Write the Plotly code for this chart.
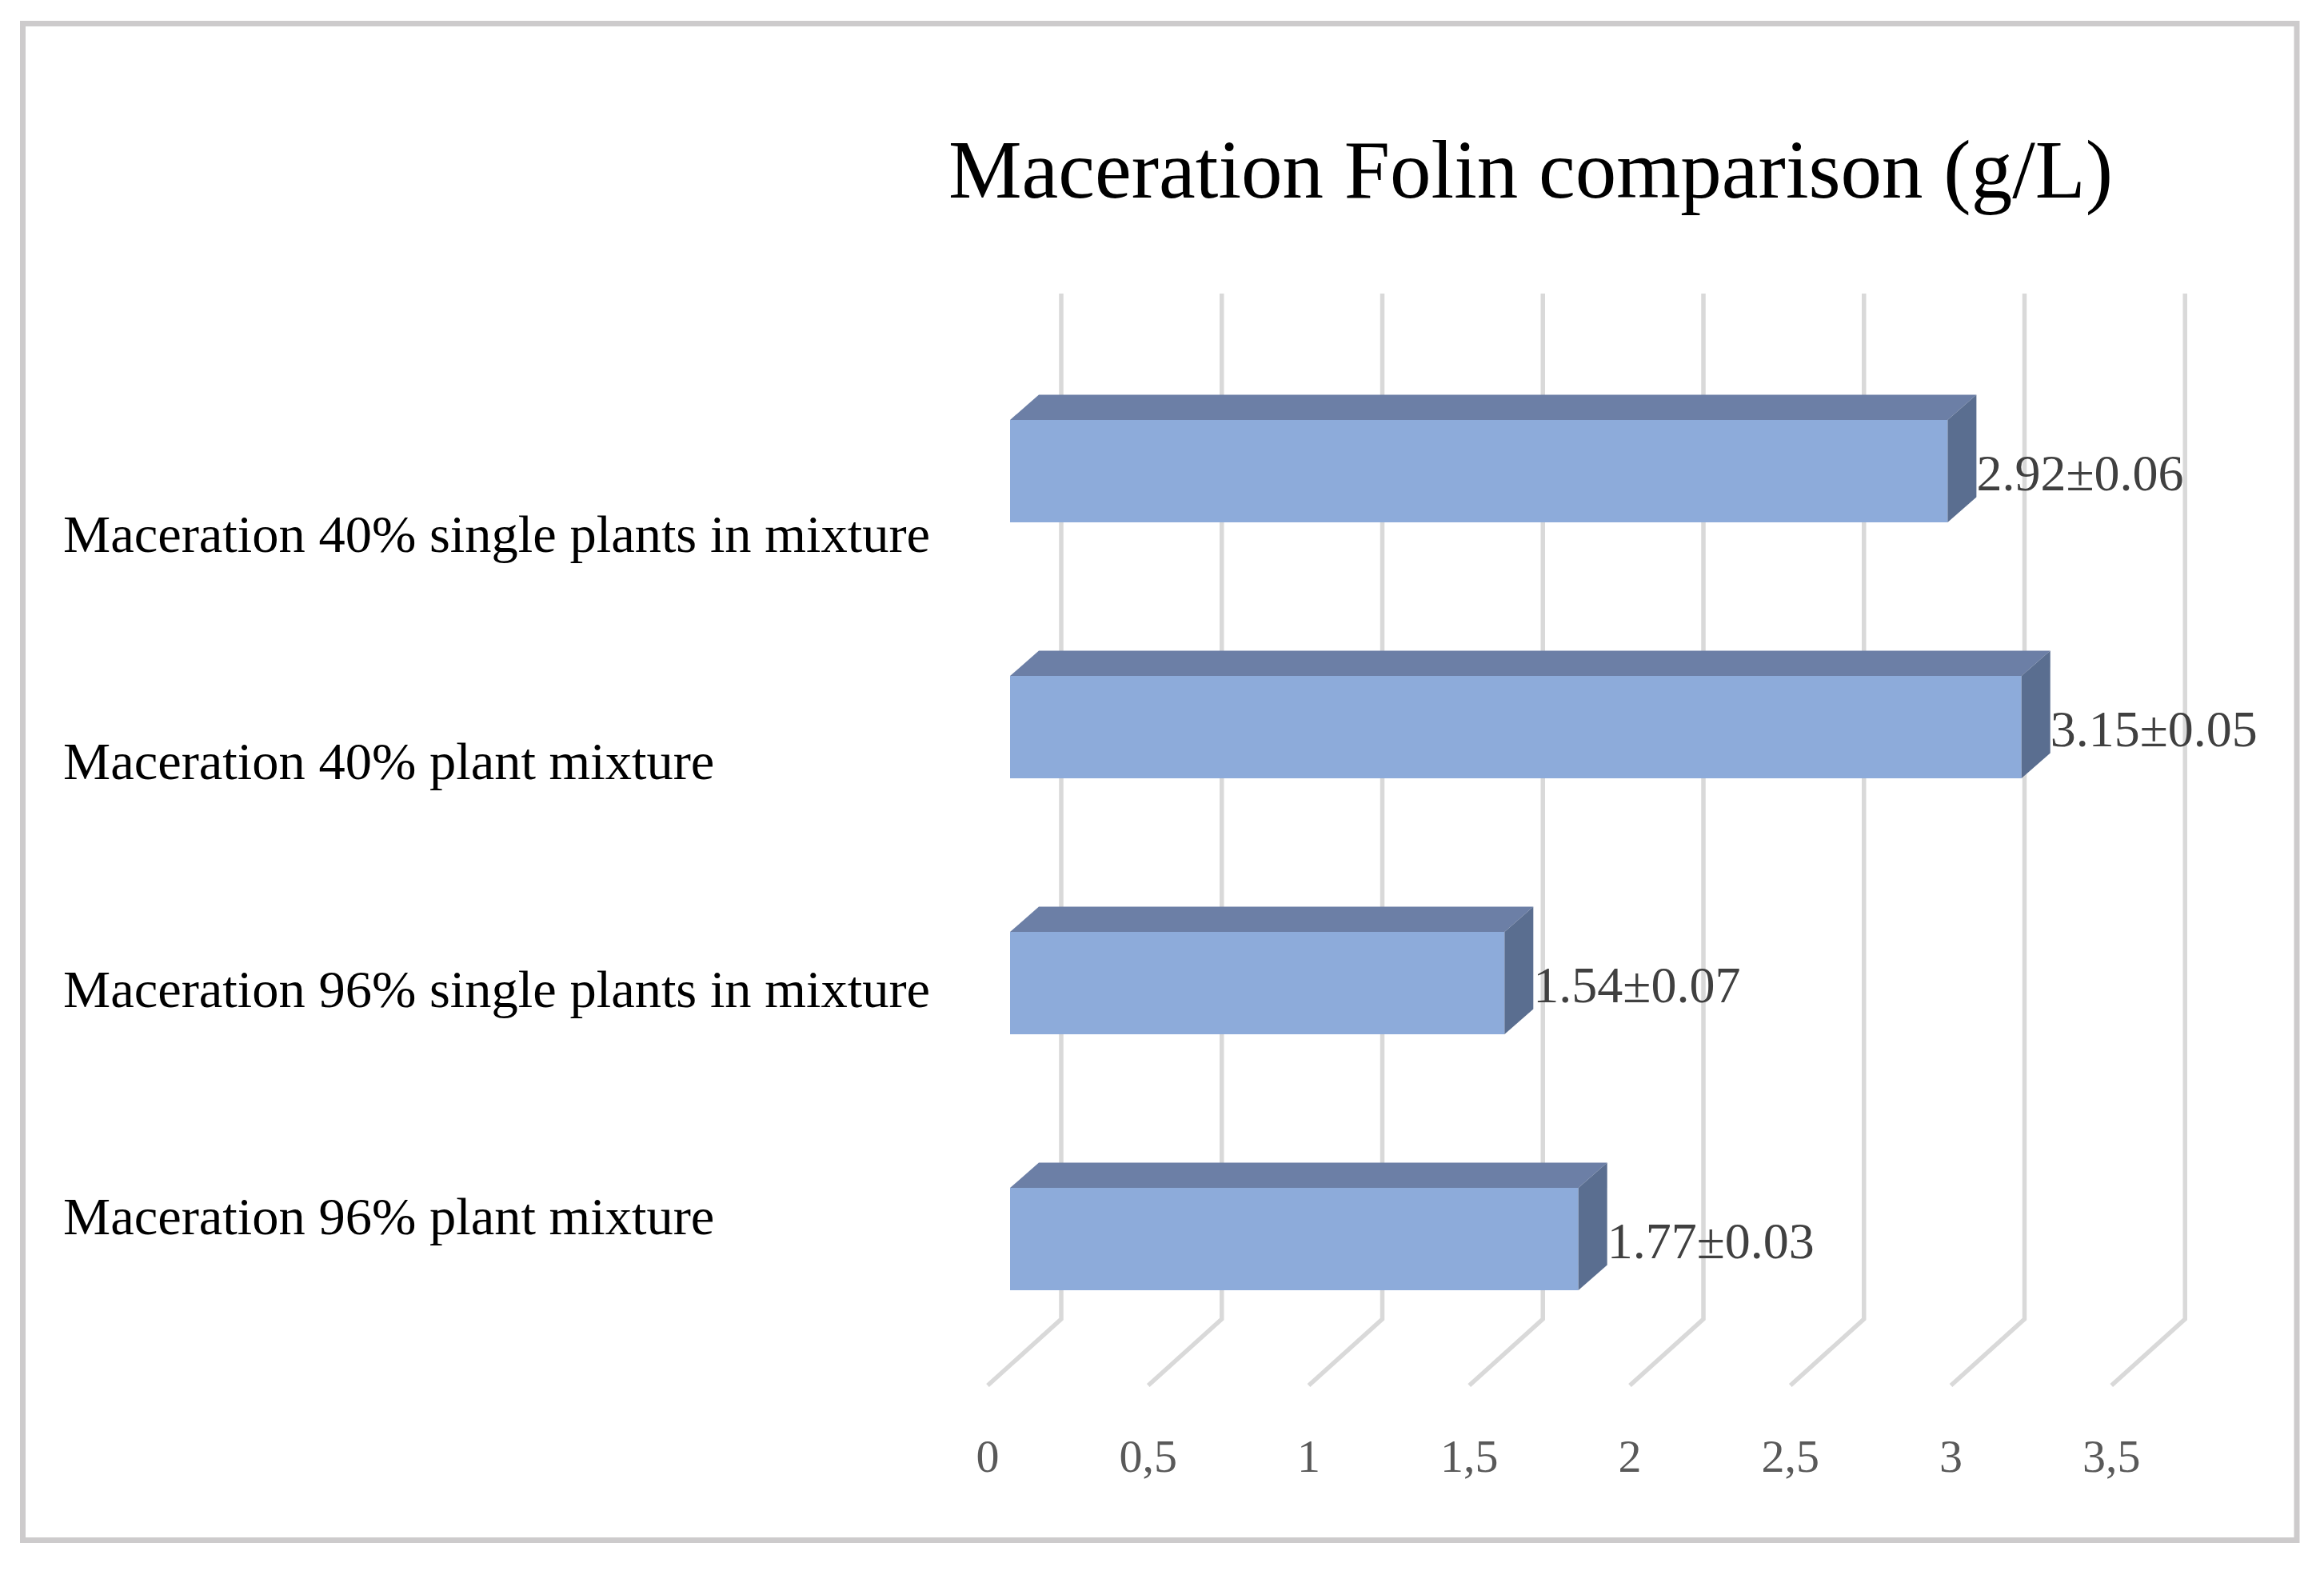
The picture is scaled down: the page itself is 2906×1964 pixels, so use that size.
import plotly.graph_objects as go

# ---- data ----
categories = ["Maceration 96% plant mixture",
              "Maceration 96% single plants in mixture",
              "Maceration 40% plant mixture",
              "Maceration 40% single plants in mixture"]
means = [1.77, 1.54, 3.15, 2.92]
errors = ["0.03", "0.07", "0.05", "0.06"]
tick_vals = [0, 0.5, 1, 1.5, 2, 2.5, 3, 3.5]
tick_text = ["0", "0,5", "1", "1,5", "2", "2,5", "3", "3,5"]
title_text = "Maceration Folin comparison (g/L)"

# ---- geometry of the pseudo-3D plot (pixels; the page adds an 8px body margin) ----
PAGE_MARGIN = 8
W, H = 2906 - PAGE_MARGIN, 1964 - PAGE_MARGIN
PX_PER_UNIT = 401.5
PX_PER_CAT = 320.0
ZERO_BAR = 1263.0 - PAGE_MARGIN     # x pixel of value 0 on bar front face
ZERO_FLOOR = 1235.0 - PAGE_MARGIN   # x pixel of value 0 on front of floor
CAT0_Y = 1549.0 - PAGE_MARGIN       # y pixel centre of the lowest bar
PLOT_BOTTOM = 1734.0 - PAGE_MARGIN
GRID_TOP = 367.0 - PAGE_MARGIN
GRID_BEND = 1649.0 - PAGE_MARGIN
LABEL_Y_PX = [p - PAGE_MARGIN for p in [1520, 1236, 951, 667]]
LABEL_X_PX = 77 - PAGE_MARGIN

ypos = list(range(len(categories)))
def y_of(px):
    return (CAT0_Y - px) / PX_PER_CAT

half = 64.0 / PX_PER_CAT
dx = 36.0 / PX_PER_UNIT
dy = 31.5 / PX_PER_CAT
back_dx = 92.0 / PX_PER_UNIT
label_dy = -8.0 / PX_PER_CAT

fig = go.Figure()

# gridlines: vertical on the back wall, diagonal on the floor
gx, gy = [], []
for t in tick_vals:
    gx += [t + back_dx, t + back_dx, t, None]
    gy += [y_of(GRID_TOP), y_of(GRID_BEND), y_of(PLOT_BOTTOM - 2), None]
fig.add_trace(go.Scatter(x=gx, y=gy, mode="lines", xaxis="x", yaxis="y",
                         line=dict(color="#D9D9D9", width=5.5), hoverinfo="skip",
                         showlegend=False))

# bars: front face
fig.add_trace(go.Bar(x=means, y=ypos, orientation="h", width=2 * half,
                     xaxis="x2", yaxis="y",
                     marker=dict(color="#8DABDA", line=dict(width=0)), showlegend=False))

# bars: top and side faces
for v, i in zip(means, ypos):
    top, bot = i + half, i - half
    fig.add_trace(go.Scatter(x=[0, v, v + dx, dx, 0],
                             y=[top, top, top + dy, top + dy, top],
                             mode="lines", fill="toself", fillcolor="#6C7FA6",
                             line=dict(width=0), xaxis="x2", yaxis="y",
                             hoverinfo="skip", showlegend=False))
    fig.add_trace(go.Scatter(x=[v, v + dx, v + dx, v, v],
                             y=[top, top + dy, bot + dy, bot, top],
                             mode="lines", fill="toself", fillcolor="#5A6E90",
                             line=dict(width=0), xaxis="x2", yaxis="y",
                             hoverinfo="skip", showlegend=False))

# value labels
fig.add_trace(go.Scatter(x=[v + dx for v in means], y=[i + label_dy for i in ypos],
                         mode="text", xaxis="x2", yaxis="y",
                         text=[f"{v:.2f}±{e}" for v, e in zip(means, errors)],
                         textposition="middle right", cliponaxis=False,
                         textfont=dict(family="Liberation Serif", size=64, color="#404040"),
                         hoverinfo="skip", showlegend=False))

# category labels (left aligned)
annotations = [dict(text=c, x=LABEL_X_PX / W, xref="paper", y=y_of(p), yref="y",
                    xanchor="left", yanchor="middle", showarrow=False,
                    font=dict(family="Liberation Serif", size=66.5, color="#000000"))
               for c, p in zip(categories, LABEL_Y_PX)]

fig.update_layout(
    width=W, height=H, autosize=False,
    margin=dict(l=0, r=0, t=0, b=0),
    paper_bgcolor="#FFFFFF", plot_bgcolor="rgba(0,0,0,0)",
    showlegend=False,
    title=dict(text=title_text, x=(1914 - PAGE_MARGIN) / W, xanchor="center", xref="paper",
               y=1 - (211 - PAGE_MARGIN) / H, yanchor="middle", yref="paper",
               font=dict(family="Liberation Serif", size=103, color="#000000")),
    xaxis=dict(domain=[0, 1], range=[-ZERO_FLOOR / PX_PER_UNIT, (W - ZERO_FLOOR) / PX_PER_UNIT],
               tickmode="array", tickvals=tick_vals, ticktext=tick_text,
               ticks="", showgrid=False, zeroline=False, showline=False,
               tickangle=0, ticklabelstandoff=47,
               tickfont=dict(family="Liberation Serif", size=58, color="#595959")),
    xaxis2=dict(domain=[0, 1], range=[-ZERO_BAR / PX_PER_UNIT, (W - ZERO_BAR) / PX_PER_UNIT],
                overlaying="x", anchor="y", visible=False),
    yaxis=dict(domain=[1 - PLOT_BOTTOM / H, 1], range=[y_of(PLOT_BOTTOM), y_of(0)],
               visible=False),
    annotations=annotations,
    shapes=[dict(type="rect", xref="paper", yref="paper",
                 x0=(28.5 - PAGE_MARGIN) / W, x1=(2872 - PAGE_MARGIN) / W,
                 y0=1 - (29.5 - PAGE_MARGIN) / H, y1=1 - (1925.5 - PAGE_MARGIN) / H,
                 line=dict(color="#CDCBCC", width=7), fillcolor="rgba(0,0,0,0)")],
)

fig.write_html("out.html")
